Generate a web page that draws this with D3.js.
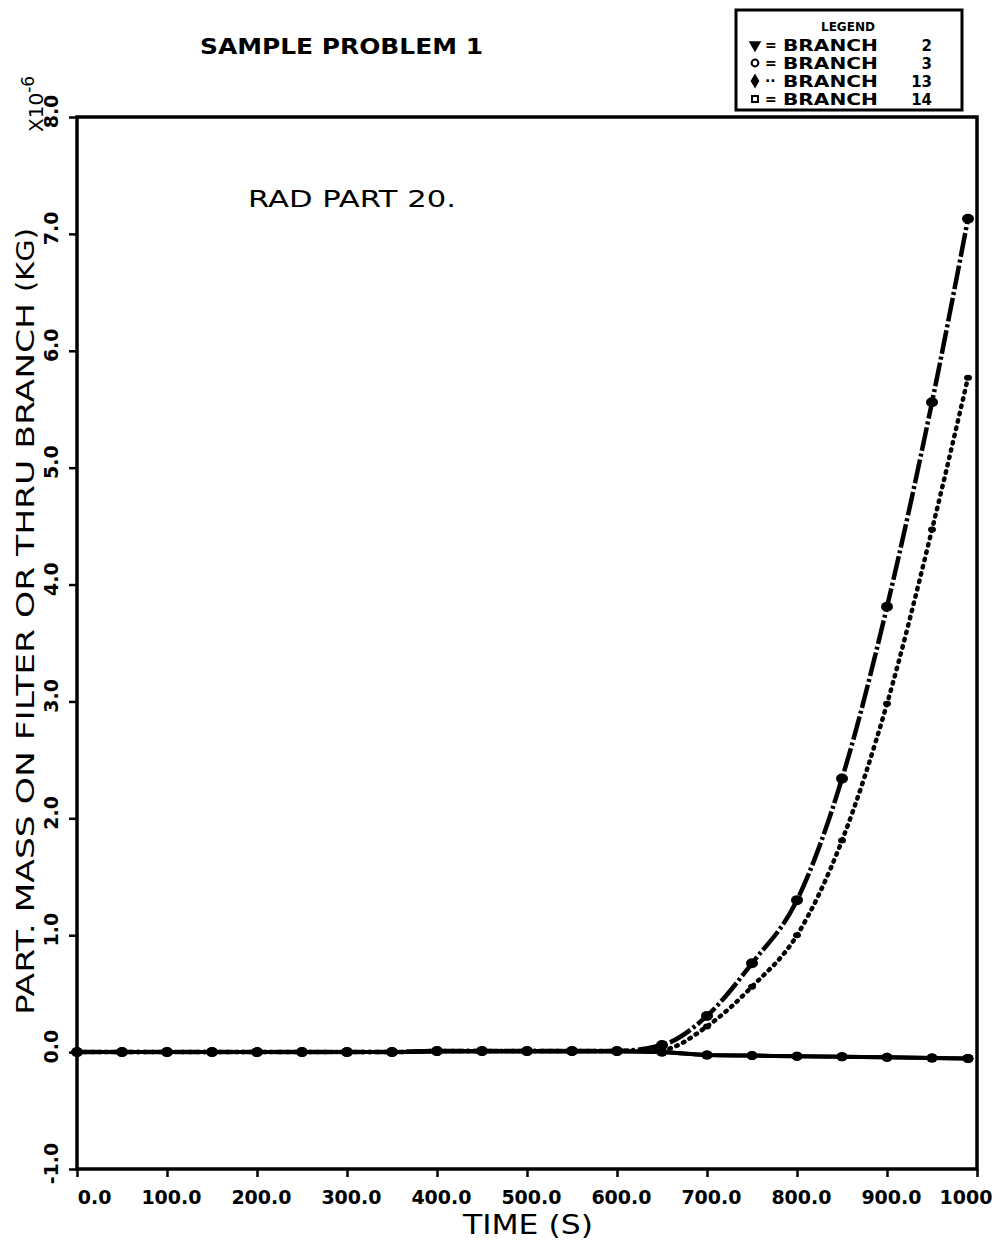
<!DOCTYPE html>
<html>
<head>
<meta charset="utf-8">
<script src="https://cdn.jsdelivr.net/npm/d3@7"></script>
<style>
  body { margin: 0; background: #fff; }
  svg text { fill: #000; }
</style>
</head>
<body>
<div id="viz_div"></div>
<script>
// DATA (y in units of 1e-6 kg)
// ---------------------------------------------------------------------------------------------------------------------------------
const times = [0, 50, 100, 150, 200, 250, 300, 350, 400, 450, 500, 550, 600, 650, 700, 750, 800, 850, 900, 950, 990];
const branch2 = [0, 0, 0, 0, 0, 0, 0, 0, 0.01, 0.01, 0.01, 0.01, 0.01, 0.06, 0.31, 0.76, 1.30, 2.34, 3.81, 5.56, 7.13];
const branch3 = [0, 0, 0, 0, 0, 0, 0, 0, 0.01, 0.01, 0.01, 0.01, 0.01, 0.0, -0.025, -0.03, -0.035, -0.04, -0.045, -0.05, -0.055];
const branch13 = [0, 0, 0, 0, 0, 0, 0, 0, 0.01, 0.01, 0.01, 0.01, 0.01, 0.02, 0.22, 0.56, 1.00, 1.81, 2.98, 4.47, 5.77];
const branch14 = [0, 0, 0, 0, 0, 0, 0, 0, 0.005, 0.005, 0.005, 0.005, 0.005, 0.0, -0.025, -0.03, -0.035, -0.04, -0.045, -0.05, -0.055];

const xTicks = [0, 100, 200, 300, 400, 500, 600, 700, 800, 900, 1000];
const yTicks = [-1, 0, 1, 2, 3, 4, 5, 6, 7, 8];
const legendNames = ["2", "3", "13", "14"];

// SCALES
// ---------------------------------------------------------------------------------------------------------------------------------
const W = 1004, H = 1241;
const x = d3.scaleLinear([0, 1000], [77, 977]);
const y = d3.scaleLinear([-1, 8], [1169, 117]);

const svg = d3.select("#viz_div")
  .append("svg")
  .attr("width", W)
  .attr("height", H);

// AXES
// ---------------------------------------------------------------------------------------------------------------------------------
const gx = svg.append("g")
  .attr("transform", `translate(0,${y(-1)})`)
  .call(d3.axisBottom(x).tickValues(xTicks).tickSize(8)
    .tickFormat(d => d === 1000 ? "1000" : d.toFixed(1)));
gx.select(".domain").remove();
gx.selectAll("line").attr("stroke", "#000").attr("stroke-width", 2.5);
gx.selectAll("text")
  .attr("y", 35).attr("dy", null)
  .attr("x", d => d === 1000 ? 15 : 34)
  .attr("text-anchor", "end")
  .style("font", "bold 19px 'DejaVu Sans'");

const gy = svg.append("g")
  .attr("transform", `translate(${x(0)},0)`)
  .call(d3.axisLeft(y).tickValues(yTicks).tickSize(8).tickFormat(d => d.toFixed(1)));
gy.select(".domain").remove();
gy.selectAll("line").attr("stroke", "#000").attr("stroke-width", 2.5);
gy.selectAll("text")
  .attr("x", null).attr("dy", null)
  .attr("transform", "translate(-19,-6) rotate(-90)")
  .attr("text-anchor", "middle")
  .style("font", "bold 19px 'DejaVu Sans'");

// frame
svg.append("rect")
  .attr("x", x(0)).attr("y", y(8))
  .attr("width", x(1000) - x(0)).attr("height", y(-1) - y(8))
  .attr("fill", "none").attr("stroke", "#000").attr("stroke-width", 3.5);

// CURVES
// ---------------------------------------------------------------------------------------------------------------------------------
const line = d3.line()
  .x((d, i) => x(times[i]))
  .y(d => y(d))
  .curve(d3.curveMonotoneX);

const series = [
  { vals: branch14, dash: null, w: 4, cap: "butt", r: 5 },
  { vals: branch3, dash: null, w: 4, cap: "butt", r: 5 },
  { vals: branch13, dash: "1.5,6", w: 4.5, cap: "round", r: 3.5 },
  { vals: branch2, dash: "24,3,3,3", w: 4.5, cap: "butt", r: 5.5 }
];

series.forEach(s => {
  svg.append("path")
    .datum(s.vals)
    .attr("d", line)
    .attr("fill", "none")
    .attr("stroke", "#000")
    .attr("stroke-width", s.w)
    .attr("stroke-linecap", s.cap)
    .attr("stroke-dasharray", s.dash);

  svg.append("g")
    .selectAll("ellipse")
    .data(s.vals)
    .enter()
    .append("ellipse")
    .attr("cx", (d, i) => x(times[i]))
    .attr("cy", d => y(d))
    .attr("rx", s.r + 0.5)
    .attr("ry", s.r - 0.5)
    .attr("fill", "#000");
});

// TITLES
// ---------------------------------------------------------------------------------------------------------------------------------
svg.append("text")
  .attr("x", 200).attr("y", 54)
  .attr("textLength", 283).attr("lengthAdjust", "spacingAndGlyphs")
  .style("font", "bold 22px 'DejaVu Sans'")
  .text("SAMPLE PROBLEM 1");

svg.append("text")
  .attr("x", 248).attr("y", 207)
  .attr("textLength", 208).attr("lengthAdjust", "spacingAndGlyphs")
  .style("font", "23px 'DejaVu Sans'")
  .text("RAD PART  20.");

svg.append("text")
  .attr("x", 463).attr("y", 1234)
  .attr("textLength", 130).attr("lengthAdjust", "spacingAndGlyphs")
  .style("font", "26px 'DejaVu Sans'")
  .text("TIME  (S)");

svg.append("text")
  .attr("transform", "translate(34,1015) rotate(-90)")
  .attr("textLength", 712).attr("lengthAdjust", "spacingAndGlyphs")
  .style("font", "25px 'DejaVu Sans'")
  .text("PART. MASS ON FILTER OR THRU BRANCH");

svg.append("text")
  .attr("transform", "translate(34,292) rotate(-90)")
  .attr("textLength", 64).attr("lengthAdjust", "spacingAndGlyphs")
  .style("font", "25px 'DejaVu Sans'")
  .text("(KG)");

const exp = svg.append("text")
  .attr("transform", "translate(43,132) rotate(-90)")
  .style("font", "20px 'DejaVu Sans'");
exp.append("tspan").text("X10");
exp.append("tspan").attr("dy", -9).style("font-size", "17px").text("-6");

// LEGEND
// ---------------------------------------------------------------------------------------------------------------------------------
svg.append("rect")
  .attr("x", 736).attr("y", 10)
  .attr("width", 226).attr("height", 100)
  .attr("fill", "#fff").attr("stroke", "#000").attr("stroke-width", 3);

svg.append("text")
  .attr("x", 848).attr("y", 31)
  .attr("text-anchor", "middle")
  .attr("textLength", 54).attr("lengthAdjust", "spacingAndGlyphs")
  .style("font", "bold 12px 'DejaVu Sans'")
  .text("LEGEND");

const symbols = [d3.symbolTriangle, d3.symbolCircle, d3.symbolDiamond, d3.symbolSquare];
const filled = [true, false, true, false];
const rowY = d3.scalePoint(legendNames, [45, 99]);

const rows = svg.append("g")
  .selectAll("g")
  .data(legendNames)
  .enter()
  .append("g")
  .attr("transform", d => `translate(0,${rowY(d)})`);

rows.append("path")
  .attr("d", (d, i) => d3.symbol(symbols[i], 36)())
  .attr("transform", (d, i) => `translate(755,0) rotate(${i === 0 ? 180 : 0})`)
  .attr("fill", (d, i) => filled[i] ? "#000" : "#fff")
  .attr("stroke", "#000").attr("stroke-width", 2);

rows.append("text")
  .attr("x", 765).attr("y", 5)
  .style("font", "bold 14px 'DejaVu Sans'")
  .text((d, i) => i === 2 ? "\u00b7\u00b7" : "=");

rows.append("text")
  .attr("x", 783).attr("y", 6)
  .attr("textLength", 95).attr("lengthAdjust", "spacingAndGlyphs")
  .style("font", "bold 15px 'DejaVu Sans'")
  .text("BRANCH");

rows.append("text")
  .attr("x", 932).attr("y", 6)
  .attr("text-anchor", "end")
  .style("font", "bold 15px 'DejaVu Sans'")
  .text(d => d);
</script>
</body>
</html>
